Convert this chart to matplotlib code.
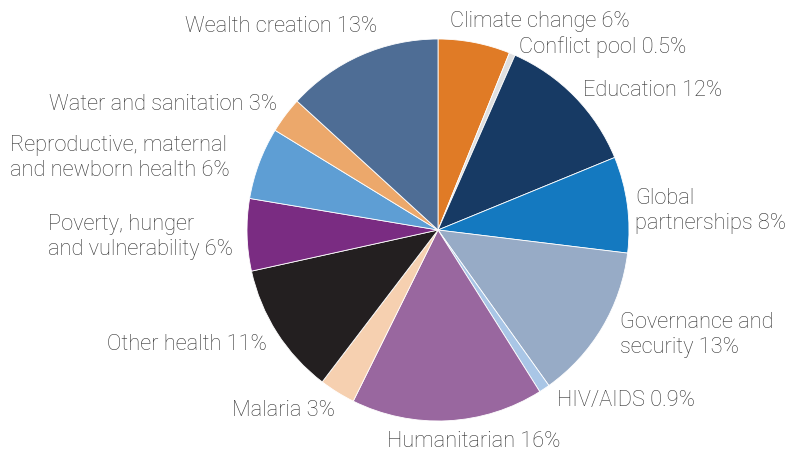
import matplotlib.pyplot as plt

# Spending by theme, clockwise from 12 o'clock
categories = [
    "Climate change", "Conflict pool", "Education", "Global partnerships",
    "Governance and security", "HIV/AIDS", "Humanitarian", "Malaria",
    "Other health", "Poverty, hunger and vulnerability",
    "Reproductive, maternal and newborn health", "Water and sanitation",
    "Wealth creation",
]
shares = [6, 0.5, 12, 8, 13, 0.9, 16, 3, 11, 6, 6, 3, 13]
share_text = ["6%", "0.5%", "12%", "8%", "13%", "0.9%", "16%", "3%",
              "11%", "6%", "6%", "3%", "13%"]
colors = [
    "#E07B26", "#E0E0E0", "#173A64", "#1479C0", "#97ABC6", "#A9C6E6",
    "#99679F", "#F6D0B0", "#231F20", "#7A2C82", "#5E9ED4", "#ECA86B",
    "#4E6D95",
]

# label text (with line breaks) and where it sits, in pixels from top-left
label_lines = [
    "Climate change", "Conflict pool", "Education", "Global\npartnerships",
    "Governance and\nsecurity", "HIV/AIDS", "Humanitarian", "Malaria",
    "Other health", "Poverty, hunger\nand vulnerability",
    "Reproductive, maternal\nand newborn health", "Water and sanitation",
    "Wealth creation",
]
label_pos = [
    (450, 22, "left"), (519, 47, "left"), (583, 91, "left"),
    (635, 211, "left"), (620, 335, "left"), (557, 401, "left"),
    (387, 442, "left"), (335, 411, "right"), (267, 345, "right"),
    (48, 237, "left"), (10, 158, "left"), (277, 104, "right"),
    (377, 27, "right"),
]

W, H = 793, 452
fig = plt.figure(figsize=(W / 100, H / 100), dpi=100)

cx, cy, r = 438, 231, 191
ax = fig.add_axes([(cx - r) / W, (H - cy - r) / H, 2 * r / W, 2 * r / H])
ax.pie(shares, colors=colors, startangle=90, counterclock=False,
       wedgeprops=dict(edgecolor="white", linewidth=0.6))
ax.set_xlim(-1, 1)
ax.set_ylim(-1, 1)
ax.set_aspect("equal")
ax.axis("off")

for name, pct, (x, y, ha) in zip(label_lines, share_text, label_pos):
    fig.text(x / W, 1 - y / H, f"{name} {pct}", ha=ha, va="center",
             fontsize=15.7, family="Roboto", weight="light", color="#333333",
             linespacing=1.3, multialignment="left")

fig.savefig("out.png", dpi=100)
